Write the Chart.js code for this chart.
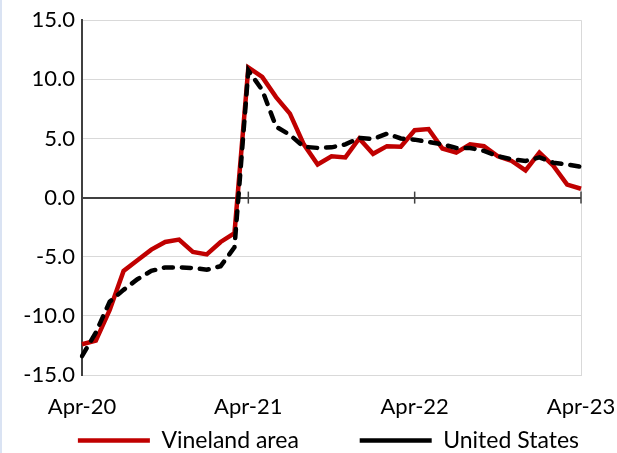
<!DOCTYPE html>
<html>
<head>
<meta charset="utf-8">
<script src="https://cdn.jsdelivr.net/npm/chart.js@4/dist/chart.umd.min.js"></script>
<style>
html,body{margin:0;padding:0;background:#fff;}
#wrap{position:relative;width:617px;height:453px;}
#edge{position:absolute;left:0;top:0;width:2px;height:453px;background:#dae3f3;}
</style>
</head>
<body>
<div id="wrap"><canvas id="chart" width="617" height="453"></canvas><div id="edge"></div></div>
<script>
const months = [
"Apr-20","May-20","Jun-20","Jul-20","Aug-20","Sep-20","Oct-20","Nov-20","Dec-20","Jan-21","Feb-21","Mar-21",
"Apr-21","May-21","Jun-21","Jul-21","Aug-21","Sep-21","Oct-21","Nov-21","Dec-21","Jan-22","Feb-22","Mar-22",
"Apr-22","May-22","Jun-22","Jul-22","Aug-22","Sep-22","Oct-22","Nov-22","Dec-22","Jan-23","Feb-23","Mar-23",
"Apr-23"];

const tickLabels = ["Apr-20","Apr-21","Apr-22","Apr-23"];

const vineland = [
-12.4,-12.1,-9.5,-6.2,-5.3,-4.4,-3.75,-3.55,-4.6,-4.8,-3.75,-3.0,
11.0,10.2,8.5,7.1,4.5,2.8,3.5,3.4,5.0,3.7,4.35,4.3,
5.7,5.8,4.15,3.8,4.5,4.35,3.5,3.1,2.3,3.8,2.7,1.1,
0.75];

const unitedStates = [
-13.4,-11.4,-8.8,-7.8,-6.9,-6.2,-5.9,-5.9,-5.95,-6.1,-5.8,-4.2,
10.75,9.1,6.0,5.3,4.3,4.2,4.25,4.5,5.05,4.95,5.4,5.0,
4.9,4.7,4.5,4.2,4.2,3.95,3.5,3.25,3.1,3.4,2.95,2.8,
2.6];

const FONT = "Lato";

// little vertical marks on the zero line at each year
const yearTicks = {
  id: "yearTicks",
  beforeDatasetsDraw(chart) {
    const {ctx, scales: {x, y}} = chart;
    const y0 = y.getPixelForValue(0);
    ctx.save();
    ctx.strokeStyle = "#404040";
    ctx.lineWidth = 1.5;
    tickLabels.slice(1).forEach(lab => {
      const px = x.getPixelForValue(months.indexOf(lab));
      ctx.beginPath();
      ctx.moveTo(px, y0 - 6);
      ctx.lineTo(px, y0 + 6);
      ctx.stroke();
    });
    ctx.restore();
  }
};

const ctx = document.getElementById("chart").getContext("2d");

new Chart(ctx, {
  type: "line",
  data: {
    labels: months,
    datasets: [{
      label: "Vineland area",
      data: vineland,
      borderColor: "#c00000",
      backgroundColor: "#c00000",
      borderWidth: 4.5,
      pointRadius: 0,
      tension: 0,
      order: 1
    }, {
      label: "United States",
      data: unitedStates,
      borderColor: "#000000",
      backgroundColor: "#000000",
      borderWidth: 4.5,
      borderDash: [9, 9],
      borderCapStyle: "round",
      pointRadius: 0,
      tension: 0,
      order: 0
    }]
  },
  options: {
    responsive: false,
    animation: false,
    layout: { padding: { top: 18, right: 36, left: 0, bottom: -9 } },
    plugins: {
      tooltip: { enabled: false },
      legend: {
        position: "bottom",
        align: "end",
        reverse: true,
        labels: {
          usePointStyle: true,
          pointStyle: "line",
          pointStyleWidth: 72,
          padding: 2,
          color: "#000",
          font: { family: FONT, size: 23 },
          generateLabels(chart) {
            const items = Chart.defaults.plugins.legend.labels.generateLabels(chart);
            items.forEach(it => {
              if (it.datasetIndex === 0) it.text = it.text + "          ";
            });
            return items;
          }
        }
      }
    },
    scales: {
      x: {
        grid: {
          drawTicks: false,
          color: c => c.index === months.length - 1 ? "#d9d9d9" : "rgba(0,0,0,0)"
        },
        border: { color: "#d9d9d9", width: 1 },
        ticks: {
          autoSkip: false,
          maxRotation: 0,
          padding: 19,
          color: "#000",
          font: { family: FONT, size: 22 },
          callback: function(v, i) {
            const lab = this.getLabelForValue(v);
            return tickLabels.includes(lab) ? lab : "";
          }
        },
        afterFit: s => { s.height = 52; s.paddingRight = 0; s.paddingLeft = 0; }
      },
      y: {
        min: -15,
        max: 15,
        grid: {
          drawTicks: false,
          color: c => c.tick && c.tick.value === 0 ? "#404040" : "#d9d9d9",
          lineWidth: c => c.tick && c.tick.value === 0 ? 2 : 1
        },
        border: { color: "#404040", width: 2 },
        ticks: {
          stepSize: 5,
          padding: 7,
          color: "#000",
          font: { family: FONT, size: 22 },
          callback: v => v.toFixed(1)
        },
        afterFit: s => { s.width = 82; }
      }
    }
  },
  plugins: [yearTicks]
});
</script>
</body>
</html>
